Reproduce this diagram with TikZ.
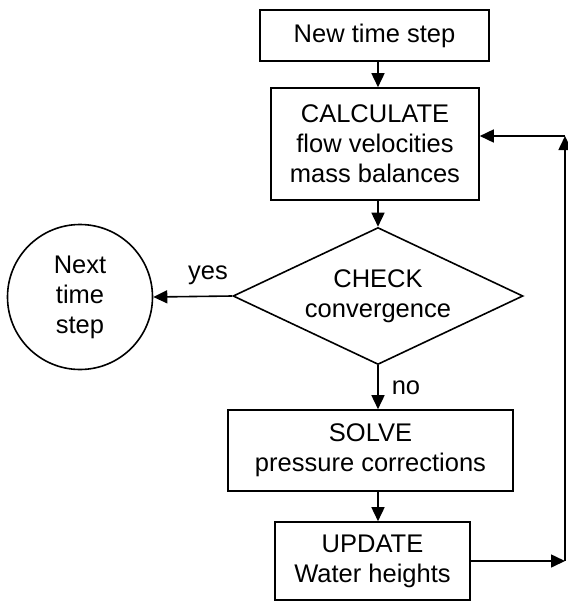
\documentclass[tikz,border=0pt]{standalone}
\usepackage{fontspec}
\setmainfont{Liberation Sans}
\usetikzlibrary{shapes.geometric,arrows.meta}
\begin{document}
\begin{tikzpicture}[x=1pt,y=-1pt,
  every node/.style={font=\fontsize{25.5}{30}\selectfont, align=center, inner sep=0pt},
  box/.style={draw, line width=1.6pt, rectangle},
  arr/.style={line width=1.6pt, -{Triangle[length=14pt,width=13pt]}},
  lbl/.style={}]
\useasboundingbox (0,0) rectangle (568,603);
\node[box, minimum width=229pt, minimum height=51pt] (new) at (374.5,35.5) {New time step};
\node[box, minimum width=208pt, minimum height=112pt] (calc) at (375,144) {CALCULATE\\flow velocities\\mass balances};
\node[draw, line width=1.6pt, shape=diamond, aspect=2.117, minimum width=290pt, minimum height=137pt] (check) at (378,296) {CHECK\\convergence};
\node[draw, line width=1.6pt, circle, minimum size=145pt] (next) at (80,297) {Next\\time\\step};
\node[box, minimum width=285pt, minimum height=81pt] (solve) at (370.5,450.5) {SOLVE\\pressure corrections};
\node[box, minimum width=195pt, minimum height=78pt] (update) at (372.5,561) {UPDATE\\Water heights};
\coordinate (c1) at (565,561);
\coordinate (c2) at (565,136);
\node[lbl] (yes) at (208,275) {yes};
\node[lbl] (no) at (406,388) {no};
\draw[arr] (new.south -| check.north) -- (calc.north -| check.north);
\draw[arr] (calc.south -| check.north) -- (check.north);
\draw[arr] (check.west) -- (next.east);
\draw[arr] (check.south) -- (solve.north -| check.south);
\draw[arr] (solve.south -| check.south) -- (update.north -| check.south);
\draw[arr] (update.east) -- (c1);
\draw[arr] (c1) -- (c2);
\draw[arr] (c2) -- (c2 -| calc.east);
\end{tikzpicture}
\end{document}
